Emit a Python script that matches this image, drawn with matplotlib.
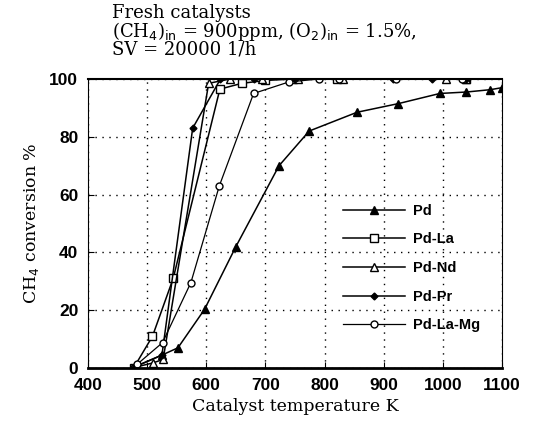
import matplotlib.pyplot as plt

# Pd
pd_t = [474, 525, 552, 597, 650, 723, 774, 855, 925, 995, 1040, 1080, 1100]
pd_c = [0, 4.5, 7, 20.3, 42, 70, 82, 88.5, 91.5, 95, 95.5, 96.3, 97]
# Pd-La
la_t = [477, 509, 544, 623, 660, 700, 747, 821, 1040]
la_c = [0, 11, 31, 96.5, 98.5, 99.5, 100, 100, 100]
# Pd-Nd
nd_t = [474, 510, 527, 604, 640, 695, 755, 831, 1006, 1040]
nd_c = [0, 1.8, 3, 98.5, 100, 100, 100, 100, 100, 100]
# Pd-Pr
pr_t = [480, 525, 577, 624, 680, 750, 916, 982, 1040]
pr_c = [0.5, 4.5, 83, 100, 100, 100, 100, 100, 100]
# Pd-La-Mg
mg_t = [483, 526, 574, 622, 680, 740, 791, 825, 920, 1033]
mg_c = [1.3, 8.8, 29.6, 63, 95, 99, 100, 100, 100, 100]

fig = plt.figure(figsize=(5.38, 4.28), dpi=100)
ax = fig.add_axes([0.1636, 0.140, 0.7694, 0.6754])

ax.plot(pd_t, pd_c, color='black', lw=1.1, marker='^', ms=6, mfc='black', label='Pd')
ax.plot(la_t, la_c, color='black', lw=1.1, marker='s', ms=6, mfc='white', label='Pd-La')
ax.plot(nd_t, nd_c, color='black', lw=1.1, marker='^', ms=6, mfc='white', label='Pd-Nd')
ax.plot(pr_t, pr_c, color='black', lw=1.1, marker='D', ms=3.5, mfc='black', label='Pd-Pr')
ax.plot(mg_t, mg_c, color='black', lw=0.9, marker='o', ms=5, mfc='white', label='Pd-La-Mg')

ax.set_xlim(400, 1100)
ax.set_ylim(0, 100)
ax.set_xticks(range(400, 1101, 100))
ax.set_yticks(range(0, 101, 20))
ax.grid(True, linestyle=(0, (1, 4)), color='black', lw=1)
ax.tick_params(direction='in', length=4, labelsize=12.5, pad=7)
for lab in ax.get_xticklabels() + ax.get_yticklabels():
    lab.set_family('Liberation Sans')
    lab.set_fontweight('bold')
ax.spines['bottom'].set_linewidth(2)
ax.spines['top'].set_linewidth(1.5)

ax.set_xlabel('Catalyst temperature K', family='DejaVu Serif', fontsize=12.5, labelpad=4)
ax.set_ylabel('CH$_4$ conversion %', family='DejaVu Serif', fontsize=12.5, labelpad=6)

leg = ax.legend(loc='center right', bbox_to_anchor=(0.98, 0.346), frameon=False,
                handlelength=4.2, labelspacing=1.0, handletextpad=0.6,
                prop={'family': 'Liberation Sans', 'size': 10.5, 'weight': 'bold'})

fig.text(0.208, 0.99, 'Fresh catalysts\n(CH$_4$)$_{\\rm in}$ = 900ppm, (O$_2$)$_{\\rm in}$ = 1.5%,\nSV = 20000 1/h',
         family='DejaVu Serif', fontsize=13, va='top', ha='left', linespacing=0.85)

fig.savefig('out.png', dpi=100)
